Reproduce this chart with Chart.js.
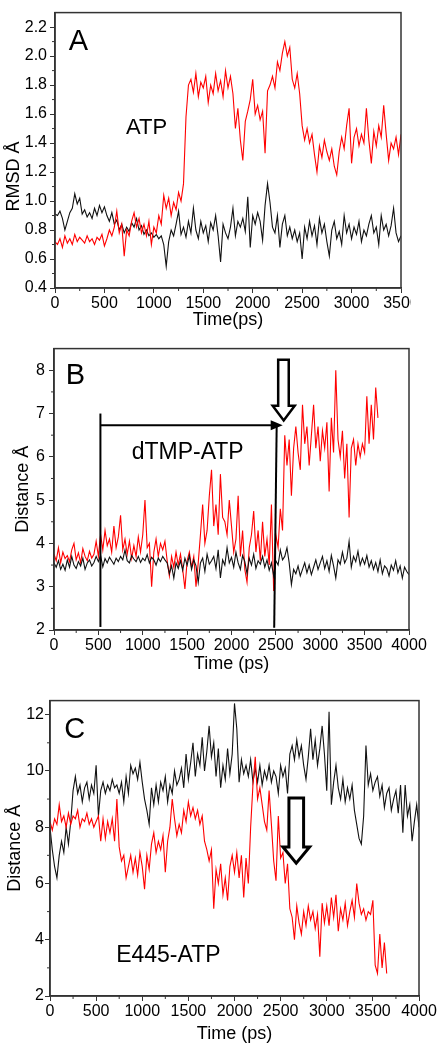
<!DOCTYPE html>
<html>
<head>
<meta charset="utf-8">
<script src="https://cdn.jsdelivr.net/npm/chart.js@4"></script>
<style>
  body { margin: 0; background: #fff; }
  .panel { position: absolute; left: 0; overflow: hidden; }
  canvas { display: block; }
</style>
</head>
<body>
<div class="panel" style="top:0;width:411px;height:335px"><canvas id="panel-a" width="442" height="335"></canvas></div>
<div class="panel" style="top:335px;width:442px;height:355px"><canvas id="panel-b" width="442" height="355"></canvas></div>
<div class="panel" style="top:690px;width:442px;height:360px"><canvas id="panel-c" width="442" height="360"></canvas></div>
<script>
// samples every 25 ps
const STEP = 25;

// A - RMSD of ATP (0..3500 ps)
const rmsdBlack = [
  0.91, 0.90, 0.93, 0.88, 0.80, 0.86, 0.92, 0.95, 1.05, 0.98,
  1.02, 0.91, 0.94, 0.89, 0.92, 0.88, 0.95, 0.90, 0.97, 0.92,
  0.96, 0.90, 0.86, 0.92, 0.84, 0.87, 0.80, 0.84, 0.78, 0.82,
  0.79, 0.85, 0.82, 0.88, 0.80, 0.83, 0.77, 0.80, 0.76, 0.78,
  0.75, 0.77, 0.74, 0.76, 0.70, 0.55, 0.72, 0.80, 0.76, 0.84,
  0.93, 0.77, 0.82, 0.75, 0.86, 0.78, 0.95, 0.80, 0.74, 0.86,
  0.78, 0.83, 0.72, 0.85, 0.80, 0.90, 0.76, 0.58, 0.84, 0.78,
  0.74, 0.82, 0.95, 0.76, 0.86, 0.82, 0.88, 0.79, 1.03, 0.68,
  0.90, 0.84, 0.92, 0.86, 0.73, 0.97, 1.12, 0.99, 0.82, 0.78,
  0.90, 0.68, 0.84, 0.90, 0.76, 0.82, 0.74, 0.80, 0.72, 0.78,
  0.60, 0.82, 0.74, 0.86, 0.76, 0.83, 0.70, 0.88, 0.78, 0.84,
  0.72, 0.62, 0.80, 0.86, 0.74, 0.79, 0.70, 0.90, 0.78, 0.84,
  0.74, 0.82, 0.77, 0.86, 0.72, 0.80, 0.76, 0.84, 0.90, 0.78,
  0.82, 0.70, 0.90, 0.80, 0.84, 0.76, 0.83, 0.95, 0.78, 0.72,
  0.76
];
const rmsdRed = [
  0.72, 0.70, 0.74, 0.68, 0.76, 0.71, 0.74, 0.70, 0.77, 0.72,
  0.75, 0.73, 0.71, 0.76, 0.72, 0.74, 0.70, 0.75, 0.73, 0.77,
  0.69, 0.74, 0.80, 0.76, 0.82, 0.93, 0.78, 0.84, 0.62, 0.80,
  0.76, 0.86, 0.92, 0.82, 0.88, 0.78, 0.84, 0.76, 0.86, 0.70,
  0.82, 0.78, 0.90, 0.84, 1.04, 0.95, 1.02, 0.90, 0.99, 0.94,
  1.06, 1.00, 1.12, 1.58, 1.80, 1.84, 1.75, 1.88, 1.72, 1.82,
  1.78, 1.86, 1.68, 1.80, 1.74, 1.88, 1.76, 1.83, 1.72, 1.90,
  1.78, 1.86, 1.74, 1.50, 1.64, 1.42, 1.28, 1.55, 1.62, 1.70,
  1.84, 1.60, 1.66, 1.56, 1.62, 1.33, 1.76, 1.80, 1.86, 1.78,
  1.96, 1.90, 2.02, 2.10, 2.00, 2.06, 1.84, 1.78, 1.88, 1.74,
  1.52, 1.42, 1.50, 1.40, 1.46, 1.32, 1.20, 1.38, 1.30, 1.42,
  1.34, 1.28, 1.36, 1.24, 1.18, 1.34, 1.44, 1.36, 1.52, 1.64,
  1.26, 1.44, 1.50, 1.38, 1.46, 1.40, 1.64, 1.42, 1.26, 1.48,
  1.38, 1.52, 1.44, 1.66, 1.46, 1.28, 1.40, 1.36, 1.44, 1.32,
  1.46
];

// B - dTMP-ATP distance (black 0..4000, red 0..3650)
const dtmpBlack = [
  3.55, 3.45, 3.60, 3.40, 3.52, 3.38, 3.62, 3.45, 3.70, 3.50,
  3.42, 3.58, 3.48, 3.66, 3.40, 3.55, 3.62, 3.48, 3.56, 3.70,
  3.58, 3.72, 3.46, 3.65, 3.55, 3.68, 3.60, 3.52, 3.66, 3.58,
  3.70, 3.62, 3.85, 3.60, 3.55, 3.72, 3.64, 3.58, 3.70, 3.56,
  3.66, 3.60, 3.74, 3.55, 3.68, 3.62, 3.50, 3.66, 3.58, 3.70,
  3.62, 3.55, 3.30, 3.48, 3.20, 3.55, 3.42, 3.60, 3.38, 3.66,
  3.50, 3.72, 3.40, 3.62, 3.48, 3.10, 3.55, 3.66, 3.35, 3.75,
  3.52, 3.60, 3.70, 3.42, 3.85, 3.20, 3.62, 3.50, 3.90, 3.55,
  3.68, 3.45, 3.80, 3.55, 3.40, 3.72, 3.58, 3.30, 3.66, 3.50,
  3.75, 3.42, 3.60, 3.52, 3.70, 3.45, 3.62, 3.38, 3.55, 3.25,
  3.60, 3.50, 3.85, 3.62, 3.70, 3.90, 3.55, 3.05, 3.40, 3.30,
  3.48, 3.25, 3.40, 3.55, 3.32, 3.50, 3.28, 3.45, 3.62, 3.40,
  3.55, 3.70, 3.42, 3.60, 3.35, 3.72, 3.48, 3.20, 3.62, 3.52,
  3.80, 3.55, 3.66, 4.05, 3.45, 3.70, 3.58, 3.82, 3.50, 3.66,
  3.52, 3.72, 3.45, 3.60, 3.40, 3.56, 3.35, 3.62, 3.30, 3.48,
  3.42, 3.25, 3.50, 3.38, 3.60, 3.32, 3.48, 3.20, 3.45, 3.35,
  3.28
];
const dtmpRed = [
  3.75, 3.60, 3.90, 3.55, 3.80, 3.65, 3.72, 3.58, 3.85, 4.00,
  3.62, 3.78, 3.55, 3.88, 3.70, 3.60, 3.82, 3.66, 3.75, 4.05,
  3.70, 4.20, 3.85, 4.30, 3.95, 4.10, 3.80, 4.40, 3.90, 4.15,
  4.65, 3.85, 4.10, 3.75, 4.05, 3.65, 3.95, 3.70, 4.15, 3.80,
  4.20, 5.00, 3.90, 4.00, 3.00, 3.80, 4.10, 3.70, 4.00, 3.85,
  4.05, 3.60, 3.25, 3.70, 3.45, 3.80, 3.50, 3.75, 3.40, 2.95,
  3.60, 3.80, 3.45, 3.70, 3.00, 3.55, 4.20, 4.90, 4.00, 4.30,
  5.10, 5.70, 4.40, 4.90, 4.20, 5.60, 4.60, 4.50, 4.20, 5.00,
  4.40, 3.80, 4.10, 5.10, 3.70, 4.30, 3.40, 3.10, 3.90, 4.20,
  4.75, 3.80, 4.30, 3.60, 4.50, 3.70, 4.10, 3.50, 4.90, 2.90,
  4.20, 3.90, 4.80, 4.30, 6.50, 5.80, 6.40, 5.10, 6.20, 6.70,
  6.10, 5.70, 7.20, 6.30, 6.70, 5.80, 6.50, 7.20, 6.20, 6.70,
  5.90, 6.60, 6.20, 6.80, 5.20, 6.90, 6.10, 8.00, 6.40, 6.00,
  6.60, 5.50, 6.30, 4.60, 6.20, 6.40, 5.80, 6.30, 6.00, 6.30,
  6.10, 7.40, 6.30, 7.20, 6.40, 7.60, 6.90
];

// C - E445-ATP distance (black 0..4000, red 0..3650)
const e445Black = [
  8.00, 7.20, 6.60, 6.20, 7.00, 7.50, 7.10, 8.00, 7.40, 8.20,
  9.30, 9.80, 9.20, 9.50, 8.90, 9.40, 9.60, 9.00, 9.50, 9.20,
  10.20, 8.40, 9.30, 9.60, 9.20, 9.50, 9.30, 9.70, 9.40, 9.50,
  9.20, 9.60, 8.90, 9.80, 9.20, 10.20, 9.90, 10.10, 9.70, 10.30,
  9.60, 9.00, 8.60, 8.10, 9.40, 8.80, 9.50, 8.90, 9.60, 9.30,
  9.80, 8.90, 9.50, 9.20, 10.00, 9.50, 9.70, 10.10, 9.40, 10.60,
  9.70, 10.30, 11.00, 9.80, 10.60, 10.20, 11.20, 10.00, 10.70, 11.60,
  10.50, 11.00, 9.80, 10.80, 9.40, 10.20, 9.70, 10.80, 9.90, 10.60,
  12.40, 11.50, 9.60, 10.40, 9.90, 10.20, 9.80, 10.40, 9.60, 10.10,
  9.60, 10.20, 9.50, 10.00, 9.70, 10.20, 9.60, 10.00, 9.80, 9.20,
  10.20, 9.80, 10.10, 9.20, 10.60, 10.90, 10.40, 11.10, 10.50, 10.90,
  10.20, 9.70, 10.50, 11.50, 10.40, 11.10, 10.20, 10.80, 11.60, 10.60,
  9.30, 12.10, 8.80, 9.60, 10.20, 9.40, 9.00, 9.70, 8.90, 9.40,
  9.00, 9.50, 8.60, 8.10, 7.60, 7.40, 8.40, 10.90, 9.50, 9.90,
  9.30, 9.60, 9.80, 9.10, 9.50, 8.70, 9.20, 9.40, 8.60, 9.00,
  9.30, 8.50, 9.50, 7.80, 9.50, 8.40, 8.80, 7.50, 8.20, 8.80,
  8.00
];
const e445Red = [
  8.20, 7.90, 8.30, 8.10, 8.80, 8.20, 8.40, 8.00, 8.50, 8.10,
  8.40, 8.30, 8.60, 8.00, 8.30, 8.20, 8.50, 8.10, 8.30, 8.00,
  8.20, 8.40, 7.50, 8.30, 7.60, 8.20, 7.80, 8.30, 7.50, 9.00,
  7.30, 6.80, 7.00, 6.20, 6.60, 7.00, 6.40, 6.90, 6.30, 7.10,
  6.60, 5.80, 7.00, 6.50, 7.40, 7.80, 7.10, 7.50, 7.20, 7.70,
  6.40, 7.50, 8.00, 9.00, 8.30, 7.70, 8.10, 7.80, 8.60, 8.20,
  8.90, 8.40, 8.70, 8.30, 8.60, 8.10, 8.40, 7.50, 7.20, 6.80,
  7.20, 5.10, 6.50, 6.00, 6.70, 5.60, 6.20, 5.40, 6.60, 7.00,
  6.40, 7.10, 6.20, 7.00, 5.50, 6.90, 6.00, 8.00, 9.50, 10.50,
  9.00, 9.40, 8.80, 8.20, 7.90, 9.30, 8.10, 6.80, 6.10, 8.40,
  6.90, 7.10, 6.00, 6.70, 5.10, 4.80, 4.00, 5.20, 4.60, 4.20,
  5.00, 4.50, 5.20, 4.70, 5.00, 4.40, 4.90, 3.40, 5.30, 4.60,
  5.20, 4.50, 5.50, 4.80, 5.60, 4.30, 5.10, 4.70, 5.30, 4.50,
  5.00, 5.40, 4.80, 6.00, 5.30, 4.90, 5.10, 4.70, 5.00, 4.90,
  5.40, 3.10, 2.80, 4.20, 3.00, 3.90, 2.80
];

// tick labels
const timeTicksA = [0, 500, 1000, 1500, 2000, 2500, 3000, 3500];
const timeTicks = [0, 500, 1000, 1500, 2000, 2500, 3000, 3500, 4000];
const rmsdTicks = [0.4, 0.6, 0.8, 1.0, 1.2, 1.4, 1.6, 1.8, 2.0, 2.2];
const dtmpTicks = [2, 3, 4, 5, 6, 7, 8];
const e445Ticks = [2, 4, 6, 8, 10, 12];

const FONT = "'Liberation Sans', Arial, sans-serif";
Chart.defaults.font.family = FONT;
Chart.defaults.color = '#000';

function series(values) {
  return values.map((v, i) => ({ x: i * STEP, y: v }));
}

function hollowArrow(ctx, x, y, a) {
  const l = x.getPixelForValue(a.left), r = x.getPixelForValue(a.right);
  const hl = x.getPixelForValue(a.headLeft), hr = x.getPixelForValue(a.headRight);
  const tx = x.getPixelForValue(a.tipX);
  const top = y.getPixelForValue(a.top), neck = y.getPixelForValue(a.neck);
  const tip = y.getPixelForValue(a.tip);
  ctx.beginPath();
  ctx.moveTo(l, top);
  ctx.lineTo(r, top);
  ctx.lineTo(r, neck);
  ctx.lineTo(hr, neck);
  ctx.lineTo(tx, tip);
  ctx.lineTo(hl, neck);
  ctx.lineTo(l, neck);
  ctx.closePath();
  ctx.fillStyle = '#fff';
  ctx.fill();
  ctx.lineJoin = 'miter';
  ctx.lineWidth = a.width;
  ctx.strokeStyle = '#000';
  ctx.stroke();
}

function segment(ctx, x, y, from, to, width) {
  ctx.beginPath();
  ctx.moveTo(x.getPixelForValue(from[0]), y.getPixelForValue(from[1]));
  ctx.lineTo(x.getPixelForValue(to[0]), y.getPixelForValue(to[1]));
  ctx.lineWidth = width;
  ctx.strokeStyle = '#000';
  ctx.stroke();
}

// frame, minor ticks, panel letter and the notes
function extras(notes) {
  return {
    id: 'extras',
    afterDraw(chart) {
      const { ctx, chartArea: a, scales: { x, y } } = chart;
      ctx.save();
      ctx.strokeStyle = '#333';
      ctx.lineWidth = 1.5;
      ctx.strokeRect(a.left, a.top, a.width, a.height);

      // minor ticks halfway between the major ones
      ctx.lineWidth = 1;
      ctx.beginPath();
      for (let i = 1; i < x.ticks.length; i++) {
        const px = x.getPixelForValue((x.ticks[i - 1].value + x.ticks[i].value) / 2);
        ctx.moveTo(px, a.bottom);
        ctx.lineTo(px, a.bottom + 3);
      }
      for (let i = 1; i < y.ticks.length; i++) {
        const py = y.getPixelForValue((y.ticks[i - 1].value + y.ticks[i].value) / 2);
        ctx.moveTo(a.left, py);
        ctx.lineTo(a.left - 3, py);
      }
      ctx.stroke();

      ctx.fillStyle = '#000';
      ctx.textBaseline = 'alphabetic';
      ctx.textAlign = 'left';
      ctx.font = '29px ' + FONT;
      ctx.fillText(notes.letter[0], x.getPixelForValue(notes.letter[1]), y.getPixelForValue(notes.letter[2]));
      ctx.font = notes.label[3] + 'px ' + FONT;
      ctx.fillText(notes.label[0], x.getPixelForValue(notes.label[1]), y.getPixelForValue(notes.label[2]));

      if (notes.yTitle) {
        ctx.save();
        ctx.translate(notes.yTitle[1], y.getPixelForValue(notes.yTitle[2]));
        ctx.rotate(-Math.PI / 2);
        ctx.textAlign = 'center';
        ctx.textBaseline = 'middle';
        ctx.font = '18px ' + FONT;
        ctx.fillText(notes.yTitle[0], 0, 0);
        ctx.restore();
      }
      if (notes.draw) notes.draw(ctx, x, y);
      ctx.restore();
    }
  };
}

function makePanel(id, cfg) {
  const canvas = document.getElementById(id);
  const xTicks = cfg.xTicks, yTicks = cfg.yTicks;
  return new Chart(canvas.getContext('2d'), {
    type: 'line',
    data: { datasets: cfg.datasets },
    options: {
      responsive: false,
      animation: false,
      layout: { padding: cfg.padding },
      elements: { point: { radius: 0 }, line: { borderWidth: 1.1, tension: 0 } },
      plugins: { legend: { display: false }, tooltip: { enabled: false } },
      scales: {
        x: {
          type: 'linear',
          min: cfg.xRange[0],
          max: cfg.xRange[1],
          afterBuildTicks: s => { s.ticks = xTicks.map(v => ({ value: v })); },
          afterFit: s => { s.height = cfg.xHeight; },
          grid: { drawOnChartArea: false, tickLength: 5, color: '#333' },
          border: { color: '#333', width: 1.5 },
          ticks: {
            autoSkip: false, maxRotation: 0, padding: 1, font: { size: 16 },
            callback: v => String(v)
          },
          title: { display: true, text: cfg.xTitle, font: { size: 18 }, padding: { bottom: cfg.xTitlePad, top: 0 } }
        },
        y: {
          min: cfg.yRange[0],
          max: cfg.yRange[1],
          afterBuildTicks: s => { s.ticks = yTicks.map(v => ({ value: v })); },
          afterFit: s => { s.width = cfg.yWidth; },
          grid: { drawOnChartArea: false, tickLength: 5, color: '#333' },
          border: { color: '#333', width: 1.5 },
          ticks: { padding: cfg.yPad, font: { size: 16 }, callback: cfg.yFormat || (v => String(v)) },
          title: {
            display: !!cfg.yTitle, text: cfg.yTitle || '', font: { size: 18 },
            padding: { top: cfg.yTitlePad, bottom: 0 }
          }
        }
      }
    },
    plugins: [extras(cfg.notes)]
  });
}

makePanel('panel-a', {
  datasets: [
    { data: series(rmsdRed), borderColor: '#ff0000' },
    { data: series(rmsdBlack), borderColor: '#111' }
  ],
  xTicks: timeTicksA, yTicks: rmsdTicks,
  xRange: [0, 3500], yRange: [0.4, 2.3],
  padding: { top: 10, right: 41, left: 0, bottom: 0 },
  xHeight: 47, yWidth: 55, yPad: 3,
  xTitle: 'Time(ps)', xTitlePad: 4,
  yFormat: v => v.toFixed(1),
  notes: {
    letter: ['A', 140, 2.04],
    label: ['ATP', 718, 1.46, 22],
    yTitle: ['RMSD Å', 14, 1.17]
  }
});

makePanel('panel-b', {
  datasets: [
    { data: series(dtmpBlack), borderColor: '#111' },
    { data: series(dtmpRed), borderColor: '#ff0000' }
  ],
  xTicks: timeTicks, yTicks: dtmpTicks,
  xRange: [0, 4000], yRange: [2, 8.5],
  padding: { top: 7, right: 33, left: 0, bottom: 0 },
  xHeight: 60, yWidth: 54, yPad: 4,
  xTitle: 'Time (ps)', xTitlePad: 15,
  yTitle: 'Distance Å', yTitlePad: 12,
  notes: {
    letter: ['B', 132, 7.69],
    label: ['dTMP-ATP', 875, 5.94, 23],
    draw(ctx, x, y) {
      segment(ctx, x, y, [523, 2.07], [523, 7.0], 2);
      segment(ctx, x, y, [2481, 2.05], [2509, 6.72], 2);
      segment(ctx, x, y, [523, 6.73], [2470, 6.73], 2);
      // filled head of the horizontal arrow
      const tx = x.getPixelForValue(2577), ty = y.getPixelForValue(6.73);
      ctx.beginPath();
      ctx.moveTo(tx, ty);
      ctx.lineTo(tx - 12, ty - 5);
      ctx.lineTo(tx - 12, ty + 5);
      ctx.closePath();
      ctx.fillStyle = '#000';
      ctx.fill();
      hollowArrow(ctx, x, y, {
        left: 2526, right: 2645, headLeft: 2464, headRight: 2712, tipX: 2588,
        top: 8.24, neck: 7.18, tip: 6.84, width: 2.5
      });
    }
  }
});

makePanel('panel-c', {
  datasets: [
    { data: series(e445Red), borderColor: '#ff0000' },
    { data: series(e445Black), borderColor: '#111' }
  ],
  xTicks: timeTicks, yTicks: e445Ticks,
  xRange: [0, 4000], yRange: [2, 12.5],
  padding: { top: 5, right: 23, left: 0, bottom: 0 },
  xHeight: 54, yWidth: 50, yPad: 1,
  xTitle: 'Time (ps)', xTitlePad: 5,
  yTitle: 'Distance Å', yTitlePad: 4,
  notes: {
    letter: ['C', 155, 11.18],
    label: ['E445-ATP', 717, 3.2, 23],
    draw(ctx, x, y) {
      hollowArrow(ctx, x, y, {
        left: 2590, right: 2749, headLeft: 2525, headRight: 2814, tipX: 2669,
        top: 9.04, neck: 7.30, tip: 6.72, width: 3
      });
    }
  }
});
</script>
</body>
</html>
